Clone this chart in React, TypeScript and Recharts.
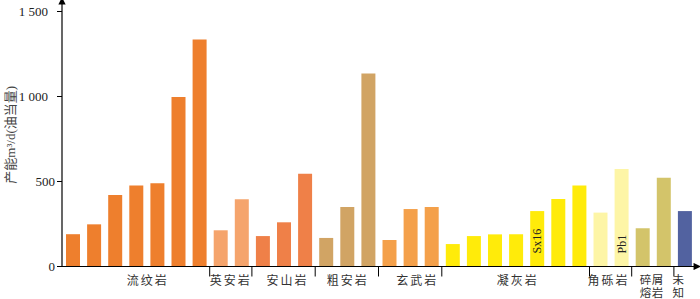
import { Bar, BarChart, Cell, LabelList, XAxis, YAxis } from 'recharts'

const groups = ['流纹岩', '英安岩', '安山岩', '粗安岩', '玄武岩', '凝灰岩', '角砾岩', '碎屑熔岩', '未知']
const groupLines = [['流纹岩'], ['英安岩'], ['安山岩'], ['粗安岩'], ['玄武岩'], ['凝灰岩'], ['角砾岩'], ['碎屑', '熔岩'], ['未', '知']]
const groupColors = ['#ee7f2d', '#f5a46c', '#ef8048', '#d1a464', '#f4a04a', '#ffeb0a', '#fdf5a6', '#d3c46a', '#5262a0']

const rhyolite = [190, 248, 420, 477, 489, 997, 1335]
const dacite = [213, 395]
const andesite = [179, 260, 546]
const trachyandesite = [168, 350, 1136]
const basalt = [156, 338, 350]
const tuff = [132, 179, 189, 189, 326, 397, 477]
const breccia = [317, 573]
const clasticLava = [225, 522]
const unknown = [326]

const groupValues = [rhyolite, dacite, andesite, trachyandesite, basalt, tuff, breccia, clasticLava, unknown]
const wellNotes: Record<string, string> = { '凝灰岩-4': 'Sx16', '角砾岩-1': 'Pb1' }

const yTicks = [0, 500, 1000, 1500]

// label nudges so group names sit where the original puts them
const labelDx = [12, 0, 4, 1, 7, 2, -2, -1, -6]

type Row = { id: string; group: number; pos: number; value: number; note?: string }

const data: Row[] = groupValues.flatMap((vals, g) =>
  vals.map((value, pos) => ({
    id: `${groups[g]}-${pos}`,
    group: g,
    pos,
    value,
    note: wellNotes[`${groups[g]}-${pos}`],
  }))
)

const serif = '"Liberation Serif", "Noto Sans CJK SC", serif'
const cjk = '"Noto Sans CJK SC", "Liberation Serif", serif'

function GroupTick(props: any) {
  const { x, y, index, width } = props
  const row = data[index]
  if (!row || row.pos !== 0) return null
  const band = (width || 633) / data.length
  const size = groupValues[row.group].length
  const left = x - band / 2
  const cx = left + (size * band) / 2 + labelDx[row.group]
  const lines = groupLines[row.group]
  const stacked = lines.length > 1
  return (
    <g>
      {row.group > 0 && <line x1={left} x2={left} y1={y} y2={y + 10} stroke="#000" strokeWidth={1} />}
      <text
        x={cx}
        y={y + 12.5}
        textAnchor="middle"
        dominantBaseline="central"
        fontFamily={cjk}
        fontSize={stacked ? 11.5 : 12}
        letterSpacing={stacked ? 0.5 : 2}
        fill="#333"
      >
        {lines.map((t, i) => (
          <tspan key={t} x={cx} dy={i === 0 ? 0 : 12.5}>
            {t}
          </tspan>
        ))}
      </text>
    </g>
  )
}

function ValueTick(props: any) {
  const { x, y, payload } = props
  const v = payload.value as number
  const txt = v >= 1000 ? `${Math.floor(v / 1000)} ${String(v % 1000).padStart(3, '0')}` : String(v)
  return (
    <text x={v >= 1000 ? x - 7 : x} y={y} textAnchor="end" dominantBaseline="central" fontFamily={serif} fontSize={13} fill="#222">
      {txt}
    </text>
  )
}

function AxisTitle(props: any) {
  const { viewBox } = props
  const cx = 10
  const cy = viewBox ? viewBox.y + viewBox.height / 2 : 135
  return (
    <text
      x={cx}
      y={cy}
      transform={`rotate(-90 ${cx} ${cy})`}
      textAnchor="middle"
      dominantBaseline="central"
      fontFamily={serif}
      fontSize={13}
      fill="#444"
    >
      产能m³/d(油当量)
    </text>
  )
}

function NoteLabel(props: any) {
  const { x, y, width, height, value } = props
  if (!value) return null
  const cx = x + width / 2
  const by = y + height - 13
  return (
    <text
      x={cx}
      y={by}
      transform={`rotate(-90 ${cx} ${by})`}
      textAnchor="start"
      dominantBaseline="central"
      fontFamily={serif}
      fontSize={12}
      fill="#222"
    >
      {value}
    </text>
  )
}

export default function App() {
  return (
    <div style={{ position: 'absolute', left: 0, top: 0, width: 700, height: 299, background: '#fff' }}>
      <svg width={0} height={0} style={{ position: 'absolute' }}>
        <defs>
          <marker id="axisArrow" viewBox="0 0 10 10" refX="2" refY="5" markerWidth="7" markerHeight="6" orient="auto-start-reverse">
            <path d="M0,0 L10,5 L0,10 z" fill="#000" />
          </marker>
        </defs>
      </svg>
      <BarChart width={700} height={299} data={data} margin={{ top: 3, right: 5, bottom: 2.5, left: 0 }}>
        <XAxis
          dataKey="id"
          interval={0}
          height={30}
          tickLine={false}
          tickSize={0}
          tickMargin={0}
          axisLine={{ stroke: '#000', strokeWidth: 1.2, markerEnd: 'url(#axisArrow)' } as any}
          tick={<GroupTick />}
        />
        <YAxis
          width={62}
          domain={[0, 1550]}
          ticks={yTicks}
          interval={0}
          tickSize={5}
          tickMargin={2}
          tickLine={{ stroke: '#000' }}
          axisLine={{ stroke: '#000', strokeWidth: 1.2, markerStart: 'url(#axisArrow)' } as any}
          tick={<ValueTick />}
          label={<AxisTitle />}
        />
        <Bar dataKey="value" barSize={14} isAnimationActive={false}>
          {data.map((d) => (
            <Cell key={d.id} fill={groupColors[d.group]} />
          ))}
          <LabelList dataKey="note" content={<NoteLabel />} />
        </Bar>
      </BarChart>
    </div>
  )
}
